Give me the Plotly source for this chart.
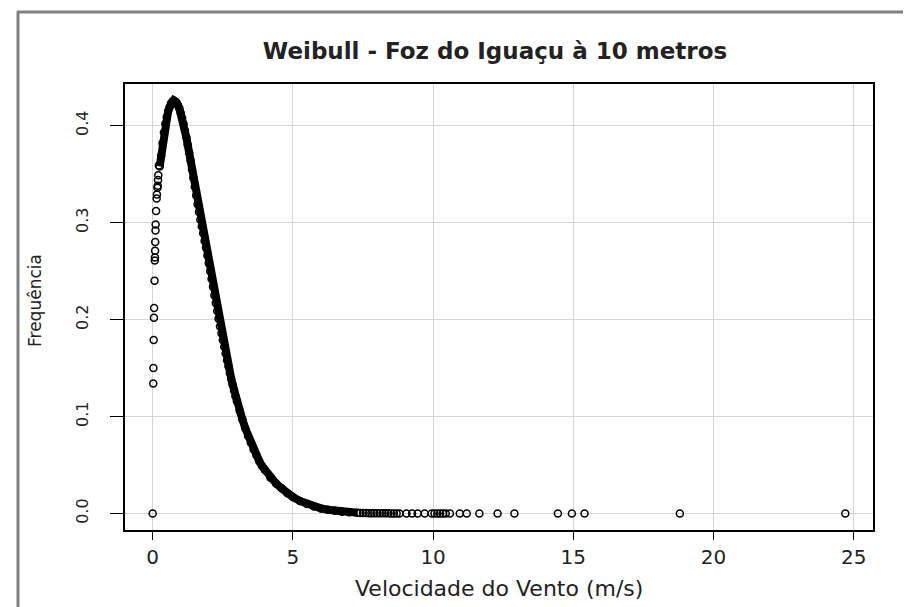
import plotly.graph_objects as go

# --- Data ---
# Isolated observations near zero speed (column at x ~ 0)
col_speed = [0.0, 0.02, 0.025, 0.035, 0.045, 0.05, 0.065, 0.075, 0.08, 0.085, 0.09,
             0.10, 0.105, 0.12, 0.14, 0.15, 0.17, 0.18, 0.19, 0.20, 0.22]
col_freq = [0.0, 0.134, 0.150, 0.179, 0.202, 0.212, 0.240, 0.261, 0.264, 0.271, 0.280,
            0.292, 0.298, 0.312, 0.325, 0.329, 0.336, 0.338, 0.344, 0.349, 0.359]

# Dense part of the curve (appears as a solid black band)
band_speed = [0.25, 0.30, 0.35, 0.40, 0.45, 0.50, 0.55, 0.60, 0.65, 0.70, 0.75, 0.80,
              0.85, 0.90, 0.95, 1.00, 1.05, 1.10, 1.15, 1.20, 1.25, 1.30, 1.35, 1.40,
              1.45, 1.50, 1.55, 1.60, 1.65, 1.70, 1.75, 1.80, 1.85, 1.90, 1.95, 2.00,
              2.05, 2.10, 2.15, 2.20, 2.25, 2.30, 2.35, 2.40, 2.45, 2.50, 2.55, 2.60,
              2.65, 2.70, 2.75, 2.80, 2.85, 2.90, 2.95, 3.00, 3.10, 3.20, 3.30, 3.40,
              3.50, 3.60, 3.70, 3.80, 3.90, 4.00, 4.20, 4.40, 4.60, 4.80, 5.00, 5.25,
              5.50, 5.75, 6.00, 6.25, 6.50, 6.75, 7.00, 7.30]
band_freq = [0.358, 0.369, 0.382, 0.393, 0.402, 0.409, 0.415, 0.419, 0.423, 0.425, 0.426, 0.425,
             0.424, 0.421, 0.418, 0.413, 0.408, 0.402, 0.395, 0.388, 0.380, 0.372, 0.364, 0.355,
             0.346, 0.337, 0.328, 0.319, 0.311, 0.303, 0.296, 0.289, 0.281, 0.274, 0.266, 0.258,
             0.250, 0.242, 0.234, 0.225, 0.217, 0.209, 0.201, 0.193, 0.186, 0.179, 0.172, 0.165,
             0.158, 0.152, 0.145, 0.139, 0.133, 0.127, 0.121, 0.116, 0.106, 0.097, 0.088, 0.080,
             0.073, 0.066, 0.060, 0.054, 0.049, 0.045, 0.037, 0.031, 0.026, 0.021, 0.017, 0.013,
             0.0098, 0.0073, 0.0053, 0.0039, 0.0028, 0.0019, 0.0013, 0.0008]

# Tail observations (density ~ 0)
tail_speed = [7.4, 7.5, 7.6, 7.7, 7.8, 7.9, 8.0, 8.1, 8.2, 8.3, 8.4, 8.5, 8.6, 8.7, 8.8,
              9.05, 9.25, 9.45, 9.7, 9.95, 10.05, 10.15, 10.25, 10.35, 10.45, 10.6,
              10.95, 11.2, 11.65, 12.3, 12.9, 14.45, 14.95, 15.4, 18.8, 24.7]
tail_freq = [0.0006, 0.0005, 0.0005, 0.0004, 0.0004, 0.0003, 0.0003, 0.0003, 0.0002, 0.0002,
             0.0002, 0.0001, 0.0001, 0.0001, 0.0001,
             0, 0, 0, 0, 0, 0, 0, 0, 0, 0, 0, 0, 0, 0, 0, 0, 0, 0, 0, 0, 0]

x_ticks = [0, 5, 10, 15, 20, 25]
y_ticks = [0.0, 0.1, 0.2, 0.3, 0.4]
y_tick_labels = ["0.0", "0.1", "0.2", "0.3", "0.4"]

title_text = "Weibull - Foz do Iguaçu à 10 metros"
x_title = "Velocidade do Vento (m/s)"
y_title = "Frequência"

FONT = "DejaVu Sans"
TXT = "#222222"

marker = dict(symbol="circle-open", size=7, color="black", line=dict(color="black", width=1.5))

fig = go.Figure()
fig.add_trace(go.Scatter(x=band_speed, y=band_freq, mode="lines+markers",
                         line=dict(color="black", width=8), marker=marker,
                         showlegend=False, hoverinfo="x+y"))
fig.add_trace(go.Scatter(x=col_speed, y=col_freq, mode="markers", marker=marker,
                         showlegend=False))
fig.add_trace(go.Scatter(x=tail_speed, y=tail_freq, mode="markers", marker=marker,
                         showlegend=False))

# plot area in pixels
L, R, T, B = 117, 865, 76, 522
W, H = 911, 607
pw, ph = R - L, B - T

def px_x(p):
    return (p - L) / pw

def px_y(p):
    return (B - p) / ph

fig.update_layout(
    width=W, height=H,
    margin=dict(l=L, r=W - R, t=T, b=H - B),
    paper_bgcolor="white", plot_bgcolor="white",
    font=dict(family=FONT, color=TXT),
    title=dict(text=title_text, font=dict(family=FONT, size=23, color=TXT, weight="bold"),
               x=487 / W, xanchor="center", xref="container",
               y=1 - 43 / H, yanchor="middle", yref="container"),
    xaxis=dict(range=[-0.988, 25.688], tickvals=x_ticks, ticks="outside", ticklen=8,
               tickwidth=1.2, tickcolor="black", showline=True, mirror=True,
               linecolor="black", linewidth=1.5, showgrid=True, gridcolor="#d6d6d6",
               gridwidth=1, zeroline=False, tickfont=dict(size=20, color=TXT),
               ticklabelstandoff=0),
    yaxis=dict(range=[-0.017, 0.443], tickvals=y_ticks, ticktext=y_tick_labels,
               tickangle=-90, ticks="outside", ticklen=13, tickwidth=1.2, tickcolor="black",
               showline=True, mirror=True, linecolor="black", linewidth=1.5,
               showgrid=True, gridcolor="#d6d6d6", gridwidth=1, zeroline=False,
               tickfont=dict(size=16, color=TXT), ticklabelstandoff=16),
    annotations=[
        dict(text=x_title, xref="paper", yref="paper", x=px_x(491), y=px_y(580),
             xanchor="center", yanchor="middle", showarrow=False,
             font=dict(family=FONT, size=22, color=TXT)),
        dict(text=y_title, xref="paper", yref="paper", x=px_x(27), y=px_y(293),
             xanchor="center", yanchor="middle", showarrow=False, textangle=-90,
             font=dict(family=FONT, size=17, color=TXT)),
    ],
    shapes=[
        dict(type="line", xref="paper", yref="paper", x0=px_x(10), x1=px_x(10),
             y0=px_y(3), y1=px_y(H + 5), line=dict(color="#808080", width=3)),
        dict(type="line", xref="paper", yref="paper", x0=px_x(9), x1=px_x(W + 5),
             y0=px_y(4), y1=px_y(4), line=dict(color="#808080", width=3)),
    ],
)

fig.write_html("out.html")
